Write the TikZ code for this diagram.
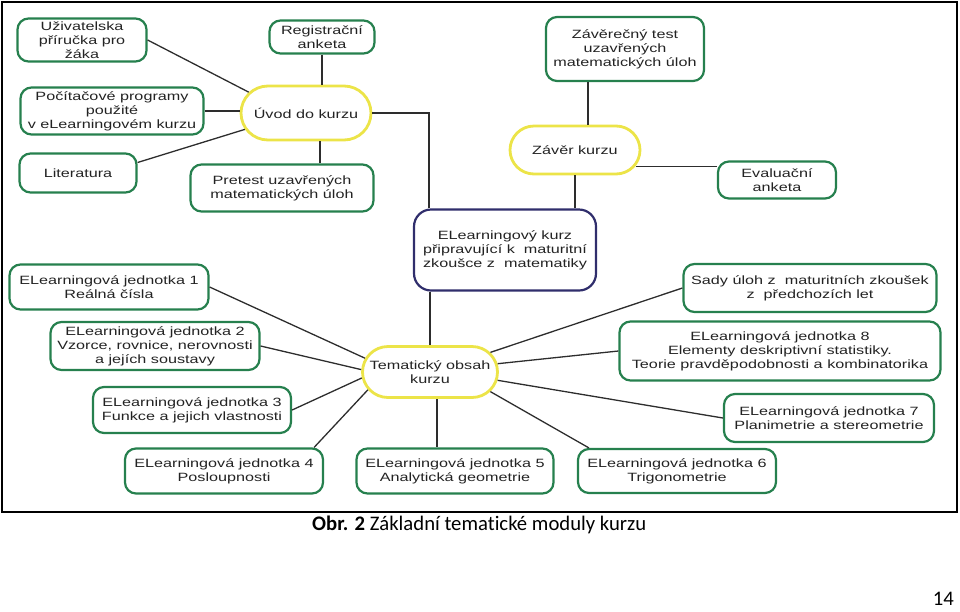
\documentclass[tikz,border=0pt]{standalone}
\usepackage{fontspec}
\usepackage{tikz}
\usetikzlibrary{shapes.misc}
\newfontfamily\boxfont{Liberation Sans}[FakeStretch=1.35]
\newfontfamily\capfont{Carlito}[Ligatures=NoCommon]
\definecolor{zelena}{RGB}{38,128,78}
\definecolor{zluta}{RGB}{236,228,72}
\definecolor{modra}{RGB}{48,46,108}
\definecolor{cara}{RGB}{45,45,45}
\definecolor{pismo}{RGB}{35,35,35}
\tikzset{
  modul/.style={draw=zelena, line width=2.2pt, rounded corners=11pt, fill=white,
    align=center, inner sep=0pt, text=pismo, font=\boxfont\fontsize{12}{14}\selectfont},
  jadro/.style={rounded rectangle, draw=zluta, line width=2.8pt, fill=white,
    align=center, inner sep=0pt, text=pismo, font=\boxfont\fontsize{12}{14}\selectfont},
  kurzbox/.style={modul, draw=modra, rounded corners=17pt},
  spoj/.style={draw=cara, line width=1.3pt}
}

\begin{document}
\begin{tikzpicture}[x=1pt,y=-1pt]
  \useasboundingbox (0,0) rectangle (960,611);
  \draw [line width=1.3pt] (2,2) rectangle (957,512);

  % uvod do kurzu
  \node [jadro, minimum width=130pt, minimum height=54pt] (uvod) at (306,113) {Úvod do kurzu};
  \node [modul, minimum width=129pt, minimum height=43pt] (prirucka) at (82,40) {Uživatelska\\příručka pro\\žáka};
  \node [modul, minimum width=105pt, minimum height=33pt] (registrace) at (322,37) {Registrační\\anketa};
  \node [modul, minimum width=183pt, minimum height=47pt] (programy) at (112,111) {Počítačové programy\\použité\\v eLearningovém kurzu};
  \node [modul, minimum width=117pt, minimum height=39pt] (literatura) at (78,173) {Literatura};
  \node [modul, minimum width=183pt, minimum height=47pt] (pretest) at (282,188) {Pretest uzavřených\\matematických úloh};

  % zaver kurzu
  \node [jadro, minimum width=130pt, minimum height=48pt] (zaver) at (575,150) {Závěr kurzu};
  \node [modul, minimum width=158pt, minimum height=64pt] (zavtest) at (625,49) {Závěrečný test\\uzavřených\\matematických úloh};
  \node [modul, minimum width=118pt, minimum height=37pt] (evaluace) at (777,180) {Evaluační\\anketa};

  \node [kurzbox, minimum width=182pt, minimum height=81pt] (kurz) at (505,250) {ELearningový kurz\\připravující k~ maturitní\\zkoušce z~ matematiky};

  % tematicky obsah
  \node [jadro, minimum width=135pt, minimum height=51pt] (tema) at (430,372) {Tematický obsah\\kurzu};
  \node [modul, minimum width=199pt, minimum height=45pt] (j1) at (109,287) {ELearningová jednotka 1\\Reálná čísla};
  \node [modul, minimum width=209pt, minimum height=48pt] (j2) at (155,346) {ELearningová jednotka 2\\Vzorce, rovnice, nerovnosti\\a jejích soustavy};
  \node [modul, minimum width=198pt, minimum height=46pt] (j3) at (192,410) {ELearningová jednotka 3\\Funkce a jejich vlastnosti};
  \node [modul, minimum width=198pt, minimum height=45pt] (j4) at (224,471) {ELearningová jednotka 4\\Posloupnosti};
  \node [modul, minimum width=197pt, minimum height=45pt] (j5) at (455,471) {ELearningová jednotka 5\\Analytická geometrie};
  \node [modul, minimum width=198pt, minimum height=44pt] (j6) at (677,471) {ELearningová jednotka 6\\Trigonometrie};
  \node [modul, minimum width=210pt, minimum height=48pt] (j7) at (829,418) {ELearningová jednotka 7\\Planimetrie a stereometrie};
  \node [modul, minimum width=321pt, minimum height=59pt] (j8) at (780,351) {ELearningová jednotka 8\\Elementy deskriptivní statistiky.\\Teorie pravděpodobnosti a kombinatorika};
  \node [modul, minimum width=253pt, minimum height=48pt] (sady) at (810,288) {Sady úloh z~ maturitních zkoušek\\z~ předchozích let};

  % spoje
  \draw [spoj] (prirucka.east) -- (uvod.160);
  \draw [spoj] (programy.east) -- (programy.east -| uvod.west);
  \draw [spoj] (literatura.10) -- (uvod.195);
  \draw [spoj] (registrace.south) -- (registrace.south |- uvod.north);
  \draw [spoj] ([xshift=38pt]pretest.north) -- ([xshift=38pt]pretest.north |- uvod.south);
  \draw [spoj] (uvod.east) -| ([xshift=16pt]kurz.north west);
  \draw [spoj] ([xshift=-37pt]zavtest.south) -- ([xshift=-37pt]zavtest.south |- zaver.north);
  \draw [spoj] (zaver.south) -- (zaver.south |- kurz.north);
  \draw [spoj] (zaver.-15) -- (zaver.-15 -| evaluace.west);
  \draw [spoj] (tema.north) -- (tema.north |- kurz.south);
  \draw [spoj] (j1.east) -- (tema.168);
  \draw [spoj] (j2.east) -- (tema.178);
  \draw [spoj] (j3.east) -- (tema.185);
  \draw [spoj] ([xshift=-10pt]j4.north east) -- (tema.196);
  \draw [spoj] ([xshift=7pt]tema.south) -- ([xshift=7pt]tema.south |- j5.north);
  \draw [spoj] ([xshift=12pt]j6.north west) -- (tema.-18);
  \draw [spoj] (j7.west) -- (tema.-7);
  \draw [spoj] (j8.west) -- (tema.7);
  \draw [spoj] (sady.west) -- (tema.18);

  % popisek
  \node [anchor=base west, inner sep=0pt, font=\capfont\fontsize{20.7}{24}\selectfont] (popisek) at (312,530) {\textbf{Obr. 2} Základní tematické moduly kurzu};
  \node [anchor=base east, inner sep=0pt, font=\capfont\fontsize{20.7}{24}\selectfont] (strana) at (954,605) {14};
\end{tikzpicture}
\end{document}
